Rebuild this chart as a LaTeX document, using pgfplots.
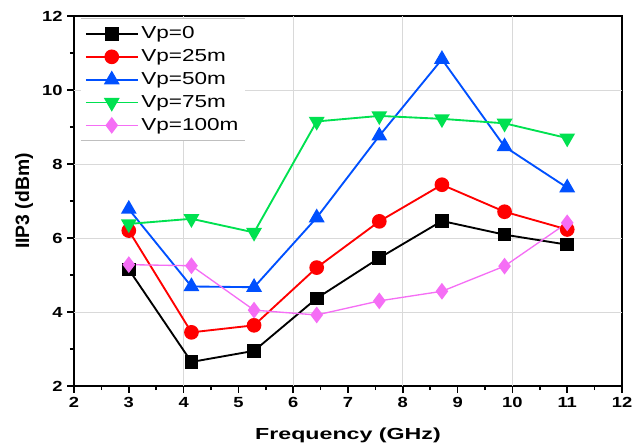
\documentclass[border=0pt]{standalone}
\usepackage{graphicx}
\usepackage{pgfplots}
\pgfplotsset{compat=1.18}
\usepackage{fontspec}
\setmainfont{Liberation Sans}
\usetikzlibrary{calc}

\definecolor{cblue}{RGB}{0,80,255}
\definecolor{cgreen}{RGB}{0,225,80}
\definecolor{cmag}{RGB}{245,110,245}
\definecolor{cred}{RGB}{255,0,0}

\newcommand{\wide}[2]{\scalebox{#1}[1]{#2}}

\begin{document}
\begin{tikzpicture}
\begin{axis}[
    name=ax,
    scale only axis,
    width=411pt, height=277.5pt,
    xmin=2, xmax=12, ymin=2, ymax=12,
    xtick={2,...,12}, ytick={2,4,...,12},
    minor x tick num=1, minor y tick num=1,
    tick align=outside,
    major tick length=5pt, minor tick length=3pt,
    xtick pos=bottom, ytick pos=left,
    axis line style={line width=1.6pt},
    every tick/.style={black, line width=1.2pt},
    tick label style={font=\bfseries\fontsize{11}{13}\selectfont},
    /pgf/number format/assume math mode=true,
    xticklabel={\wide{1.25}{\pgfmathprintnumber{\tick}}},
    yticklabel={\wide{1.25}{\pgfmathprintnumber{\tick}}},
    xlabel={\wide{1.45}{\bfseries Frequency (GHz)}},
    ylabel={\bfseries IIP3 (dBm)},
    xlabel style={font=\bfseries\fontsize{12}{14}\selectfont, yshift=-3pt},
    ylabel style={font=\bfseries\fontsize{14.5}{16}\selectfont, yshift=-5pt},
    extra x ticks={4,6,8,10},
    extra y ticks={4,6,8,10},
    extra x tick labels={}, extra y tick labels={},
    extra tick style={grid=major, major tick length=0pt},
    major grid style={gray!30, line width=0.5pt},
    legend style={at={(0.012,0.993)}, anchor=north west, draw=none,
        fill=white, font=\fontsize{13}{15}\selectfont,
        row sep=2.6pt, inner xsep=3pt, inner ysep=4pt, name=leg},
    legend cell align=left,
    legend image code/.code={
        \draw[mark repeat=2, mark phase=2] plot coordinates {(0pt,0pt) (19.5pt,0pt) (39pt,0pt)};
    },
]
\addplot[black, line width=1.4pt, mark=square*, mark size=4.4pt] coordinates {
    (3,5.15) (4.143,2.65) (5.286,2.95) (6.429,4.37) (7.571,5.46) (8.714,6.46) (9.857,6.09) (11,5.82)
};
\addlegendentry{\wide{1.3}{Vp=0}}
\addplot[cred, line width=1.4pt, mark=*, mark size=4.8pt] coordinates {
    (3,6.2) (4.143,3.45) (5.286,3.64) (6.429,5.2) (7.571,6.45) (8.714,7.44) (9.857,6.71) (11,6.23)
};
\addlegendentry{\wide{1.3}{Vp=25m}}
\addplot[cblue, line width=1.4pt, mark=triangle*, mark size=5.5pt] coordinates {
    (3,6.78) (4.143,4.69) (5.286,4.67) (6.429,6.55) (7.571,8.76) (8.714,10.83) (9.857,8.47) (11,7.36)
};
\addlegendentry{\wide{1.3}{Vp=50m}}
\addplot[cgreen, line width=1.4pt, mark=triangle*, mark options={rotate=180}, mark size=5.5pt] coordinates {
    (3,6.38) (4.143,6.52) (5.286,6.15) (6.429,9.15) (7.571,9.3) (8.714,9.22) (9.857,9.1) (11,8.7)
};
\addlegendentry{\wide{1.3}{Vp=75m}}
\addplot[cmag, line width=1pt, mark=diamond*, mark size=5.5pt] coordinates {
    (3,5.28) (4.143,5.25) (5.286,4.05) (6.429,3.92) (7.571,4.3) (8.714,4.56) (9.857,5.24) (11,6.41)
};
\addlegendentry{\wide{1.3}{Vp=100m}}
\end{axis}
\draw[gray!50, line width=0.6pt] (leg.north west) -- (leg.north east);
\draw[gray!50, line width=0.6pt] (leg.south west) -- (leg.south east);
\pgfresetboundingbox
\path ($(ax.south west)+(-55.5pt,-45.75pt)$) rectangle ($(ax.north east)+(12.75pt,12pt)$);
\end{tikzpicture}
\end{document}
